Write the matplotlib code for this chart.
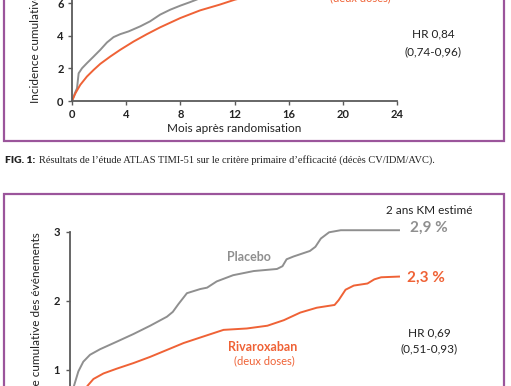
import matplotlib
matplotlib.use("Agg")
import matplotlib.pyplot as plt
from matplotlib.lines import Line2D

W, H = 511, 386
GRAY = "#8f8f8f"
ORANGE = "#ef6236"
PURPLE = "#9b559b"
AXC = "#5a5a5a"
SANS = "Lato"

# ---- data: top panel (ATLAS TIMI-51, primary endpoint) ----
top_placebo_m = [0, 0.2, 0.37, 0.49, 0.74, 1.1, 1.6, 2.09, 2.58, 3.07, 3.56, 4.18, 5.04, 5.77,
                 6.51, 7.25, 8.0, 8.7, 9.2, 10, 12, 14, 16, 18, 20, 22, 24]
top_placebo_v = [0, 0.45, 0.78, 1.70, 2.01, 2.32, 2.73, 3.14, 3.59, 3.92, 4.10, 4.27, 4.58, 4.89,
                 5.30, 5.60, 5.85, 6.06, 6.22, 6.5, 7.3, 8.0, 8.7, 9.3, 9.8, 10.3, 10.7]
top_riva_m = [0, 0.25, 0.61, 1.1, 1.6, 2.09, 2.83, 3.56, 4.55, 5.53, 6.51, 8.0, 9.46, 10.9,
              12.04, 14, 16, 18, 20, 22, 24]
top_riva_v = [0, 0.47, 0.99, 1.50, 1.91, 2.28, 2.73, 3.14, 3.65, 4.10, 4.52, 5.09, 5.56, 5.91,
              6.22, 6.6, 7.1, 7.6, 8.0, 8.5, 8.9]
top_xticks = [0, 4, 8, 12, 16, 20, 24]
top_yticks = [0, 2, 4, 6]

# ---- data: bottom panel ----
bot_placebo_m = [0, 0.12, 0.29, 0.61, 0.97, 1.46, 2.19, 3.42, 4.63, 5.85, 7.07, 7.5, 7.9, 8.53,
                 9.5, 10.0, 10.7, 11.9, 13.4, 15.1, 15.5, 15.8, 16.3, 17.5, 17.9, 18.3, 18.9,
                 19.75, 24]
bot_placebo_v = [0, 0.35, 0.77, 0.98, 1.12, 1.22, 1.30, 1.41, 1.52, 1.64, 1.77, 1.84, 1.95, 2.11,
                 2.17, 2.19, 2.28, 2.37, 2.43, 2.46, 2.50, 2.60, 2.64, 2.72, 2.78, 2.90, 2.99,
                 3.02, 3.02]
bot_riva_m = [0, 0.4, 0.8, 1.27, 1.71, 2.44, 3.42, 4.63, 5.85, 7.07, 8.29, 9.51, 11.2, 12.9,
              14.4, 15.6, 16.8, 18.0, 19.3, 19.6, 20.1, 20.7, 21.7, 22.2, 22.7, 24]
bot_riva_v = [0, 0.35, 0.6, 0.77, 0.87, 0.95, 1.02, 1.10, 1.19, 1.29, 1.39, 1.47, 1.58, 1.60,
              1.64, 1.72, 1.83, 1.90, 1.94, 2.01, 2.16, 2.22, 2.25, 2.31, 2.34, 2.35]
bot_yticks = [1, 2, 3]

fig = plt.figure(figsize=(W / 100, H / 100), dpi=100)
fig.patch.set_facecolor("white")


def fx(px):
    return px / W


def fy(py):
    return 1 - py / H


def style_axes(ax):
    for s in ("top", "right"):
        ax.spines[s].set_visible(False)
    for s in ("left", "bottom"):
        ax.spines[s].set_color(AXC)
        ax.spines[s].set_linewidth(1.3)
    ax.tick_params(direction="out", length=3, width=1, color=AXC, labelsize=8,
                   labelcolor="#222222", pad=3)
    for lab in ax.get_xticklabels() + ax.get_yticklabels():
        lab.set_fontfamily(SANS)
        lab.set_fontweight("bold")
    ax.set_facecolor("none")


# ---- top panel ----
y0_top, ppu_top = 101, 16.3
ytop_max = 6.3
ax1 = fig.add_axes([fx(72), fy(y0_top), (397 - 72) / W, ytop_max * ppu_top / H])
ax1.plot(top_placebo_m, top_placebo_v, color=GRAY, lw=1.4, solid_joinstyle="round")
ax1.plot(top_riva_m, top_riva_v, color=ORANGE, lw=1.4, solid_joinstyle="round")
ax1.set_xlim(0, 24)
ax1.set_ylim(0, ytop_max)
ax1.set_xticks(top_xticks)
ax1.set_yticks(top_yticks)
ax1.set_xticklabels([str(t) for t in top_xticks])
ax1.set_yticklabels([str(t) for t in top_yticks])
style_axes(ax1)

fig.text(fx(234), fy(128), "Mois après randomisation", ha="center", va="center",
         fontsize=8.5, family=SANS, color="#222222")
fig.text(fx(35), fy(103), "Incidence cumulative des événements (%)", rotation=90,
         ha="center", va="bottom", fontsize=8.5, family=SANS, color="#222222")
fig.text(fx(433), fy(34), "HR 0,84", ha="center", va="center", fontsize=8.5,
         family=SANS, color="#222222")
fig.text(fx(433), fy(52), "(0,74-0,96)", ha="center", va="center", fontsize=8.5,
         family=SANS, color="#222222")
fig.text(fx(360), fy(1), "(deux doses)", ha="center", va="baseline", fontsize=8,
         family=SANS, color=ORANGE)

# ---- caption ----
fig.text(fx(5), fy(163), "FIG. 1:", ha="left", va="baseline", fontsize=7.5,
         family=SANS, fontweight="heavy", color="#222222")
fig.text(fx(39), fy(163),
         "Résultats de l’étude ATLAS TIMI-51 sur le critère primaire d’efficacité (décès CV/IDM/AVC).",
         ha="left", va="baseline", fontsize=7.5, family="Liberation Serif", color="#222222")

# ---- bottom panel ----
y0_bot, ppu_bot = 439.2, 69.2
ax2 = fig.add_axes([fx(70), fy(y0_bot), (399 - 70) / W, 3 * ppu_bot / H])
ax2.plot(bot_placebo_m, bot_placebo_v, color=GRAY, lw=1.4, solid_joinstyle="round",
         clip_on=False)
ax2.plot(bot_riva_m, bot_riva_v, color=ORANGE, lw=1.4, solid_joinstyle="round",
         clip_on=False)
ax2.set_xlim(0, 24)
ax2.set_ylim(0, 3)
ax2.set_xticks([])
ax2.set_yticks(bot_yticks)
ax2.set_yticklabels([str(t) for t in bot_yticks])
style_axes(ax2)
ax2.tick_params(axis="y", pad=4)

fig.text(fx(37), fy(232), "Incidence cumulative des événements", rotation=90,
         ha="center", va="top", fontsize=8.5, family=SANS, color="#222222")
fig.text(fx(429), fy(210), "2 ans KM estimé", ha="center", va="center", fontsize=8.5,
         family=SANS, color="#222222")
fig.text(fx(429), fy(228), "2,9 %", ha="center", va="center", fontsize=11,
         family=SANS, fontweight="bold", color=GRAY)
fig.text(fx(426), fy(278), "2,3 %", ha="center", va="center", fontsize=11,
         family=SANS, fontweight="bold", color=ORANGE)
fig.text(fx(249), fy(257), "Placebo", ha="center", va="center", fontsize=9,
         family=SANS, fontweight="bold", color=GRAY)
fig.text(fx(263), fy(347), "Rivaroxaban", ha="center", va="center", fontsize=9,
         family=SANS, fontweight="bold", color=ORANGE)
fig.text(fx(264), fy(361), "(deux doses)", ha="center", va="center", fontsize=8,
         family=SANS, color=ORANGE)
fig.text(fx(429), fy(333), "HR 0,69", ha="center", va="center", fontsize=8.5,
         family=SANS, color="#222222")
fig.text(fx(429), fy(349), "(0,51-0,93)", ha="center", va="center", fontsize=8.5,
         family=SANS, color="#222222")

# ---- purple frames ----
def fline(xs, ys):
    fig.add_artist(Line2D([fx(x) for x in xs], [fy(y) for y in ys], color=PURPLE, lw=1.6,
                          transform=fig.transFigure, solid_joinstyle="miter"))


fline([4, 4, 504, 504], [-20, 141, 141, -20])
fline([4, 4, 504, 504], [420, 194, 194, 420])

fig.savefig("out.png", dpi=100)
